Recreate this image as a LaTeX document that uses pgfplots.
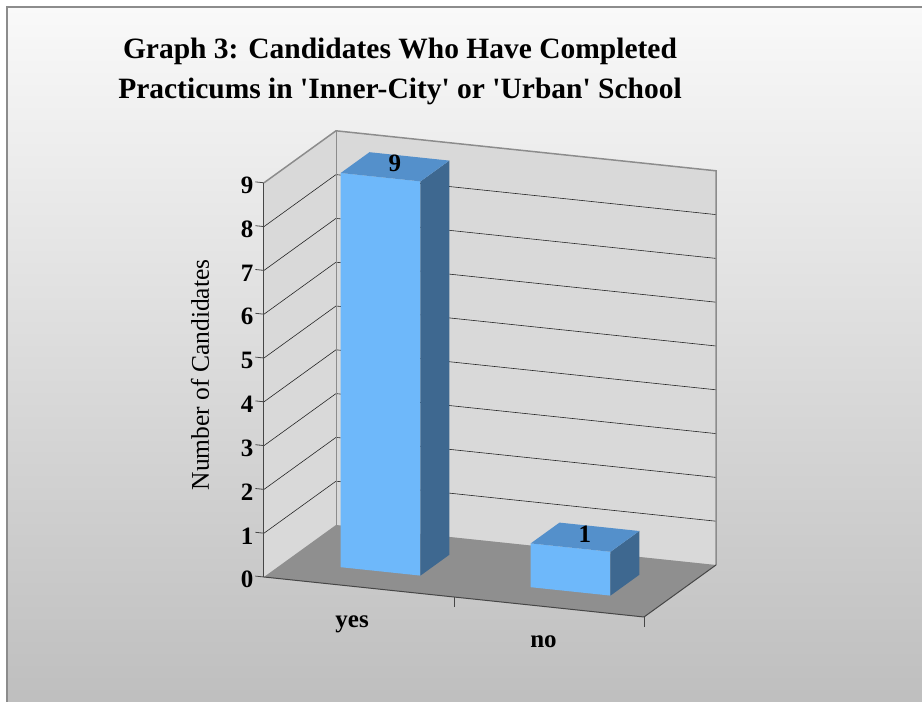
\documentclass[border=0pt]{standalone}
\usepackage{pgfplots}
\pgfplotsset{compat=1.18}
\usepackage{fontspec}
\setmainfont{Liberation Serif}
\definecolor{barfront}{RGB}{110,184,250}
\definecolor{bartop}{RGB}{84,144,203}
\definecolor{barside}{RGB}{62,104,144}
\definecolor{floorc}{RGB}{143,143,143}
\definecolor{wallc}{RGB}{217,217,217}
\definecolor{framec}{RGB}{140,140,140}
\definecolor{bgtop}{RGB}{249,249,249}
\definecolor{bgbot}{RGB}{190,190,190}
\definecolor{axc}{RGB}{70,70,70}
\begin{document}
\begin{tikzpicture}[x=1pt,y=1pt]
\fill[white] (-264,-125) rectangle (658,577);
\shade[top color=bgtop, bottom color=bgbot] (-257,-130) rectangle (665,570);
\draw[framec, line width=1.5pt] (-257,-130) -- (-257,570) -- (665,570);
\node[align=center, font=\fontsize{29.5}{40}\selectfont\bfseries] at (136,506)
  {Graph 3: Candidates Who Have Completed\\Practicums in \textquotesingle Inner-City\textquotesingle{} or \textquotesingle Urban\textquotesingle{} School};
\begin{axis}[
  anchor=origin, at={(0pt,0pt)},
  x={(190pt,-20pt)}, y={(72pt,52pt)}, z={(0pt,43.8pt)},
  xmin=0, xmax=2, ymin=0, ymax=1, zmin=0, zmax=9,
  clip=false,
  axis on top,
  axis lines=left,
  axis line style={-, draw=axc, line width=1pt},
  y axis line style={draw=none},
  ytick=\empty,
  ztick={0,1,...,9},
  xtick={0.5,1.5}, xticklabels={yes,no},
  major tick length=0pt,
  tick style={draw=none},
  /pgf/number format/assume math mode=true,
  ticklabel style={font=\fontsize{25}{25}\selectfont\bfseries},
  xticklabel style={yshift=-24pt},
  zticklabel style={xshift=-7pt},
]
% walls and floor
\addplot3[fill=wallc, draw=none] coordinates {(0,0,0) (0,1,0) (0,1,9) (0,0,9)};
\addplot3[fill=wallc, draw=none] coordinates {(0,1,0) (2,1,0) (2,1,9) (0,1,9)};
\addplot3[fill=floorc, draw=none] coordinates {(0,0,0) (2,0,0) (2,1,0) (0,1,0)};
% grid lines
\pgfplotsinvokeforeach{1,...,8}{
  \addplot3[black!85, line width=0.6pt] coordinates {(0,0,#1) (0,1,#1) (2,1,#1)};
}
% tick marks
\pgfplotsinvokeforeach{0,...,9}{
  \addplot3[axc, line width=0.8pt] coordinates {(0,0,#1) (-0.045,0,#1)};
}
\addplot3[axc, line width=0.8pt] coordinates {(1,0,0) (1,0,-0.22)};
\addplot3[axc, line width=0.8pt] coordinates {(2,0,0) (2,0,-0.22)};
% wall frame
\addplot3[framec, line width=0.8pt] coordinates {(0,1,0) (0,1,9)};
\addplot3[framec, line width=1.5pt] coordinates {(0,0,9) (0,1,9) (2,1,9) (2,1,0)};
\addplot3[axc, line width=1pt] coordinates {(2,0,0) (2,1,0)};
% bar: yes = 9
\addplot3[fill=barfront, draw=none] coordinates {(0.29,0.3,0) (0.71,0.3,0) (0.71,0.3,9) (0.29,0.3,9)};
\addplot3[fill=barside, draw=none] coordinates {(0.71,0.3,0) (0.71,0.7,0) (0.71,0.7,9) (0.71,0.3,9)};
\addplot3[fill=bartop, draw=none] coordinates {(0.29,0.3,9) (0.71,0.3,9) (0.71,0.7,9) (0.29,0.7,9)};
% bar: no = 1
\addplot3[fill=barfront, draw=none] coordinates {(1.29,0.3,0) (1.71,0.3,0) (1.71,0.3,1) (1.29,0.3,1)};
\addplot3[fill=barside, draw=none] coordinates {(1.71,0.3,0) (1.71,0.7,0) (1.71,0.7,1) (1.71,0.3,1)};
\addplot3[fill=bartop, draw=none] coordinates {(1.29,0.3,1) (1.71,0.3,1) (1.71,0.7,1) (1.29,0.7,1)};
% value labels
\addplot3[draw=none, mark=none, point meta=explicit symbolic, nodes near coords,
  nodes near coords style={anchor=center, yshift=3pt, font=\fontsize{25}{25}\selectfont\bfseries}]
  coordinates {(0.5,0.5,9) [9] (1.5,0.5,1) [1]};
\node[rotate=90, font=\fontsize{25.5}{25.5}\selectfont] at ([xshift=-64pt,yshift=5pt]axis cs:0,0,4.5) {Number of Candidates};
\end{axis}
\pgfresetboundingbox
\path[use as bounding box] (-264,-125) rectangle (658,577);
\end{tikzpicture}
\end{document}
